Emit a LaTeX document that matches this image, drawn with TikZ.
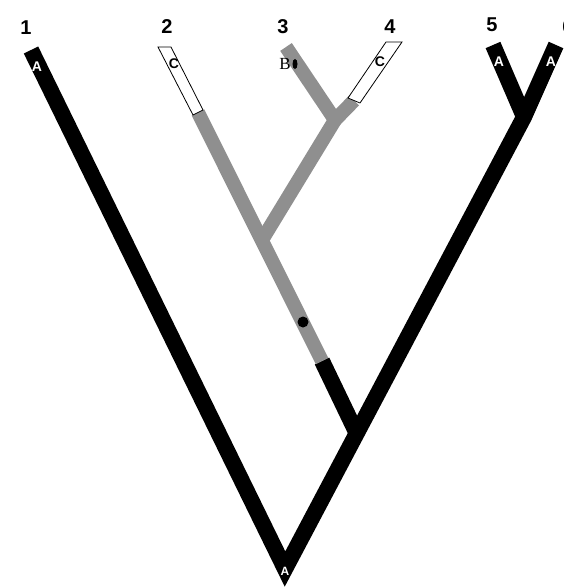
\documentclass[tikz,border=0pt]{standalone}
\usepackage{fontspec}
\setmainfont{Liberation Sans}
\newfontfamily\serifB{Liberation Serif}
\definecolor{stip}{gray}{0.56}
\begin{document}
\begin{tikzpicture}[x=1pt,y=-1pt,
  blackbr/.style={line width=16pt, draw=black, line cap=butt, line join=miter},
  greybr/.style={line width=14pt, draw=stip, line cap=butt, line join=miter},
  tiplab/.style={font=\bfseries\fontsize{20}{20}\selectfont, inner sep=0pt},
  alab/.style={text=white, font=\bfseries\fontsize{14}{14}\selectfont, inner sep=0pt},
  clab/.style={font=\bfseries\fontsize{14}{14}\selectfont, inner sep=0pt},
  boxbr/.style={draw=black, fill=white, line width=0.8pt}]
\useasboundingbox (0,0) rectangle (563,588);
% coordinates
\coordinate (t1) at (31,50);
\coordinate (root) at (285,569);
\coordinate (J56) at (524,117);
\coordinate (t5) at (493,45);
\coordinate (t6) at (556,45);
\coordinate (Jin) at (358,436);
\coordinate (bk) at (322,361);
\coordinate (G) at (262,240);
\coordinate (b2) at (198,112.5);
\coordinate (K) at (335,120);
\coordinate (t3) at (286,47);
\coordinate (b4) at (354,100.5);
% black tree
\draw[blackbr] (t1) -- (root) -- (J56) -- (t6);
\draw[blackbr] (t5) -- (J56);
\draw[blackbr] (Jin) -- (bk);
% grey part
\draw[greybr] (bk) -- (b2);
\draw[greybr] (G) -- (K);
\draw[greybr] (t3) -- (K) -- (b4);
% white boxes
\draw[boxbr] (158,47) -- (171,47) -- (203,110) -- (193,115) -- cycle;
\draw[boxbr] (386,42) -- (402,42) -- (360,103) -- (348,98) -- cycle;
% marks
\fill (303,322) circle (5.5);
\node[font=\serifB\fontsize{17}{17}\selectfont, inner sep=0pt] (B) at (285,64) {B};
\fill (295,64) ellipse (2.5 and 5);
% labels
\node[tiplab] (n1) at (26,28) {1};
\node[tiplab] (n2) at (167,27) {2};
\node[tiplab] (n3) at (283,27) {3};
\node[tiplab] (n4) at (390,27) {4};
\node[tiplab] (n5) at (492,25) {5};
\node[tiplab] (n6) at (568,27) {6};
\node[alab] (a1) at (37,67) {A};
\node[alab] (a5) at (499,62) {A};
\node[alab] (a6) at (551,62) {A};
\node[alab, font=\bfseries\fontsize{12}{12}\selectfont] (a0) at (285,571) {A};
\node[clab] (c2) at (174,64) {C};
\node[clab] (c4) at (380,62) {C};
\end{tikzpicture}
\end{document}
